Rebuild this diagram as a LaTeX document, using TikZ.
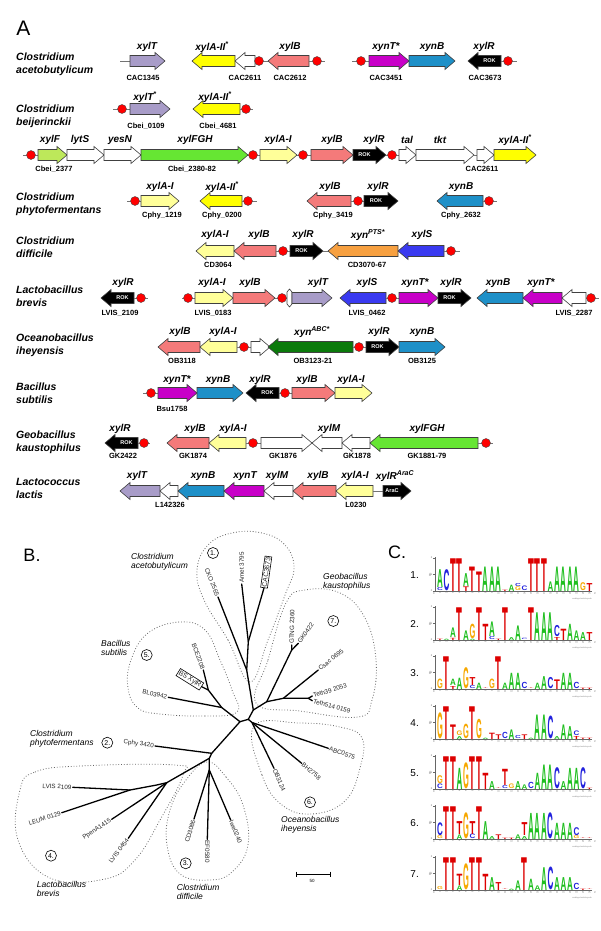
\documentclass[tikz,border=0pt]{standalone}
\usepackage{fontspec}
\setmainfont{Liberation Sans}
\usepackage{graphicx}
\definecolor{cPur}{HTML}{A89CC8}
\definecolor{cYel}{HTML}{FFFF00}
\definecolor{cLye}{HTML}{FFFF99}
\definecolor{cSal}{HTML}{F47A7A}
\definecolor{cMag}{HTML}{C800C8}
\definecolor{cBlu}{HTML}{1E90C8}
\definecolor{cLgr}{HTML}{BDE85A}
\definecolor{cGrn}{HTML}{66E633}
\definecolor{cOra}{HTML}{F7A040}
\definecolor{cVio}{HTML}{3A3AF0}
\definecolor{cDgr}{HTML}{0B7A0B}
\definecolor{lcA}{HTML}{1FBF1F}
\definecolor{lcC}{HTML}{2222DD}
\definecolor{lcG}{HTML}{F7A800}
\definecolor{lcT}{HTML}{DD0000}
\tikzset{
 gn/.style={font=\fontsize{10}{12}\selectfont\bfseries\itshape, inner sep=0pt},
 lt/.style={font=\fontsize{7.5}{9}\selectfont\bfseries, inner sep=0pt},
 sp/.style={font=\fontsize{10.5}{13}\selectfont\bfseries\itshape, align=left, anchor=west, inner sep=0pt},
 gshape/.style={draw=black!75, line width=0.6pt, line join=miter},
 prom/.style={circle, fill=red, draw=black!70, line width=0.4pt, minimum size=9pt, inner sep=0pt},
 stub/.style={draw=black!55, line width=0.7pt},
 rok/.style={font=\fontsize{5.5}{6}\selectfont\bfseries, text=white, inner sep=0pt},
 tr/.style={line width=1.3pt, line cap=round},
 lf/.style={font=\fontsize{6.3}{7}\selectfont, text=black!85, inner sep=1pt},
 bsp/.style={font=\fontsize{8.5}{9.5}\selectfont\itshape, align=left, anchor=west, inner sep=0pt},
 cnum/.style={circle, draw, line width=0.6pt, minimum size=11pt, inner sep=0pt, font=\fontsize{7}{8}\selectfont},
 clus/.style={draw=black!60, dotted, line width=0.8pt},
}
\newcommand\gR[4]{\draw[gshape,fill=#4] (#1,#3-5.5) -- (#2-10,#3-5.5) -- (#2-10,#3-8.5) -- (#2,#3) -- (#2-10,#3+8.5) -- (#2-10,#3+5.5) -- (#1,#3+5.5) -- cycle;}
\newcommand\gL[4]{\draw[gshape,fill=#4] (#2,#3-5.5) -- (#1+10,#3-5.5) -- (#1+10,#3-8.5) -- (#1,#3) -- (#1+10,#3+8.5) -- (#1+10,#3+5.5) -- (#2,#3+5.5) -- cycle;}
\newcommand\rokR[3]{\gR{#1}{#2}{#3}{black}\node[rok] at ({(#1+#2-10)/2},#3) {ROK};}
\newcommand\rokL[3]{\gL{#1}{#2}{#3}{black}\node[rok] at ({(#1+#2+10)/2},#3) {ROK};}
\newcommand\pr[2]{\node[prom] at (#1,#2) {};}
\newcommand\st[3]{\draw[stub] (#1,#3) -- (#2,#3);}
\newcommand\lcol[3]{%
  \xdef\lacc{0}%
  \foreach \L/\h in #3 {%
    \pgfmathsetmacro\hh{\h*16.5-0.3}%
    \node[inner sep=0pt,outer sep=0pt,anchor=south west] at (#1,{#2-\lacc}) {\resizebox*{5.8pt}{\hh pt}{\textcolor{lc\L}{\bfseries\L}}};%
    \pgfmathsetmacro\na{\lacc+\hh+0.3}%
    \xdef\lacc{\na}%
  }%
}
\newcommand\logo[3]{%
  \pgfmathsetmacro\yb{#2+16}%
  \node[font=\fontsize{10}{11}\selectfont, anchor=east, inner sep=0pt] at (419,#2) {#1.};
  \draw[black!60, line width=0.4pt] (435,{\yb-34}) -- (435,\yb) -- (592,\yb);
  \foreach \t in {0,1,2} {\draw[black!60, line width=0.3pt] (433,{\yb-16.5*\t}) -- (435,{\yb-16.5*\t});
     \node[font=\fontsize{2.5}{3}\selectfont, text=black!60, inner sep=0pt, anchor=east] at (432.5,{\yb-16.5*\t}) {\t};}
  \node[font=\fontsize{2.5}{3}\selectfont, text=black!60, rotate=90, inner sep=0pt] at (430,{\yb-16}) {bits};
  \node[font=\fontsize{2.5}{3}\selectfont, text=black!60, inner sep=0pt] at (434,{\yb+3}) {5'};
  \node[font=\fontsize{2.5}{3}\selectfont, text=black!60, inner sep=0pt] at (595,{\yb+3}) {3'};
  \node[font=\fontsize{2}{2.5}\selectfont, text=black!50, inner sep=0pt, anchor=east] at (592,{\yb+8}) {weblogo.berkeley.edu};
  \foreach \s [count=\i] in {#3} {%
     \pgfmathsetmacro\xx{437+6.5*(\i-1)}%
     \node[font=\fontsize{2.5}{3}\selectfont, text=black!55, rotate=90, inner sep=0pt, anchor=east] at ({\xx+3},{\yb+1}) {\i};
     \lcol{\xx}{\yb}{\s}%
  }%
}
\begin{document}
\begin{tikzpicture}[x=1pt,y=-1pt]
\useasboundingbox (0,0) rectangle (600,931);
\fill[white] (0,0) rectangle (600,931);
% ===== Panel A =====
\node[font=\fontsize{21}{22}\selectfont, inner sep=0pt] at (23.5,28) {A};
% species
\node[sp] at (16,64.5) {Clostridium\\acetobutylicum};
\node[sp] at (16,116.5) {Clostridium\\beijerinckii};
\node[sp] at (16,204.5) {Clostridium\\phytofermentans};
\node[sp] at (16,247.5) {Clostridium\\difficile};
\node[sp] at (16,296.5) {Lactobacillus\\brevis};
\node[sp] at (16,345.5) {Oceanobacillus\\iheyensis};
\node[sp] at (16,393.5) {Bacillus\\subtilis};
\node[sp] at (16,442) {Geobacillus\\kaustophilus};
\node[sp] at (16,488.5) {Lactococcus\\lactis};
% Row 1
\st{120}{130}{61}
\gR{130}{165}{61}{cPur}
\gL{192}{235}{61}{cYel}
\gL{235}{255}{61}{white}
\st{255}{268}{61}\pr{259}{61}
\gL{268}{309}{61}{cSal}
\st{309}{325}{61}\pr{317}{61}
\st{352}{369}{61}\pr{361}{61}
\gR{369}{409}{61}{cMag}
\gR{409}{455}{61}{cBlu}
\rokL{468}{501}{61}
\st{501}{517}{61}\pr{508}{61}
\node[gn] at (147,47) {xylT};
\node[gn] at (212,47) {xylA-II\textsuperscript{*}};
\node[gn] at (290,47) {xylB};
\node[gn] at (386,47) {xynT*};
\node[gn] at (432,47) {xynB};
\node[gn] at (484,47) {xylR};
\node[lt] at (143,78) {CAC1345};
\node[lt] at (245,78) {CAC2611};
\node[lt] at (290,78) {CAC2612};
\node[lt] at (386,78) {CAC3451};
\node[lt] at (485,78) {CAC3673};
% Row 2
\st{113}{130}{109}\pr{122}{109}
\gR{130}{170}{109}{cPur}
\gL{193}{240}{109}{cYel}
\st{240}{253}{109}\pr{246}{109}
\node[gn] at (145,97) {xylT\textsuperscript{*}};
\node[gn] at (215,97) {xylA-II\textsuperscript{*}};
\node[lt] at (146,126) {Cbei\_0109};
\node[lt] at (218,126) {Cbei\_4681};
% Row 3
\st{23}{38}{155}\pr{31}{155}
\gR{38}{67}{155}{cLgr}
\gR{67}{104}{155}{white}
\gR{104}{141}{155}{white}
\gR{141}{248}{155}{cGrn}
\st{248}{260}{155}\pr{253}{155}
\gR{260}{297}{155}{cLye}
\st{297}{311}{155}\pr{303}{155}
\gR{311}{353}{155}{cSal}
\rokR{353}{386}{155}
\st{386}{399}{155}\pr{392}{155}
\gR{399}{416}{155}{white}
\gR{416}{474}{155}{white}
\st{474}{477}{155}
\gR{477}{494}{155}{white}
\gR{494}{536}{155}{cYel}
\node[gn] at (50,140) {xylF};
\node[gn] at (80,140) {lytS};
\node[gn] at (120,140) {yesN};
\node[gn] at (195,140) {xylFGH};
\node[gn] at (278,140) {xylA-I};
\node[gn] at (332,140) {xylB};
\node[gn] at (374,140) {xylR};
\node[gn] at (407,140) {tal};
\node[gn] at (440,140) {tkt};
\node[gn] at (515,140) {xylA-II\textsuperscript{*}};
\node[lt] at (54,169) {Cbei\_2377};
\node[lt] at (192,169) {Cbei\_2380-82};
\node[lt] at (482,169) {CAC2611};
% Row 4
\st{127}{141}{201}\pr{135}{201}
\gR{141}{179}{201}{cLye}
\gL{200}{242}{201}{cYel}
\st{242}{257}{201}\pr{248}{201}
\gL{307}{351}{201}{cSal}
\st{351}{364}{201}\pr{358}{201}
\rokR{364}{398}{201}
\gL{437}{483}{201}{cBlu}
\st{483}{497}{201}\pr{489}{201}
\node[gn] at (160,187) {xylA-I};
\node[gn] at (222,187) {xylA-II\textsuperscript{*}};
\node[gn] at (330,187) {xylB};
\node[gn] at (378,187) {xylR};
\node[gn] at (461,187) {xynB};
\node[lt] at (162,216) {Cphy\_1219};
\node[lt] at (222,216) {Cphy\_0200};
\node[lt] at (333,216) {Cphy\_3419};
\node[lt] at (461,216) {Cphy\_2632};
% Row 5
\gL{196}{234}{251}{cLye}
\gL{234}{276}{251}{cSal}
\st{276}{290}{251}\pr{283}{251}
\rokR{290}{323}{251}
\st{323}{328}{251}
\gL{328}{398}{251}{cOra}
\gL{398}{444}{251}{cVio}
\st{444}{460}{251}\pr{451}{251}
\node[gn] at (215,235) {xylA-I};
\node[gn] at (259,235) {xylB};
\node[gn] at (303,235) {xylR};
\node[gn] at (368,235) {xyn\textsuperscript{PTS*}};
\node[gn] at (422,235) {xylS};
\node[lt] at (218,265) {CD3064};
\node[lt] at (367,265) {CD3070-67};
% Row 6
\rokL{101}{134}{298}
\st{134}{148}{298}\pr{141}{298}
\st{182}{195}{298}\pr{188}{298}
\gR{195}{233}{298}{cLye}
\gR{233}{275}{298}{cSal}
\st{275}{292}{298}\pr{282}{298}
\draw[gshape,fill=white] (287,292) -- (289.5,289) -- (292,292) -- (292,304) -- (289.5,307) -- (287,304) -- cycle;
\gR{292}{332}{298}{cPur}
\gL{340}{386}{298}{cVio}
\st{386}{399}{298}\pr{392}{298}
\gR{399}{438}{298}{cMag}
\rokR{438}{471}{298}
\gL{477}{523}{298}{cBlu}
\gL{523}{562}{298}{cMag}
\gL{562}{586}{298}{white}
\st{586}{599}{298}\pr{591}{298}
\node[gn] at (123,283) {xylR};
\node[gn] at (212,283) {xylA-I};
\node[gn] at (250,283) {xylB};
\node[gn] at (318,283) {xylT};
\node[gn] at (367,283) {xylS};
\node[gn] at (415,283) {xynT*};
\node[gn] at (451,283) {xylR};
\node[gn] at (498,283) {xynB};
\node[gn] at (541,283) {xynT*};
\node[lt] at (120,313) {LVIS\_2109};
\node[lt] at (213,313) {LVIS\_0183};
\node[lt] at (367,313) {LVIS\_0462};
\node[lt] at (574,313) {LVIS\_2287};
% Row 7
\gL{158}{200}{347}{cSal}
\gL{200}{237}{347}{cLye}
\st{237}{251}{347}\pr{244}{347}
\gR{251}{270}{347}{white}
\gL{268}{353}{347}{cDgr}
\st{353}{366}{347}\pr{359}{347}
\rokR{366}{399}{347}
\gR{399}{445}{347}{cBlu}
\node[gn] at (180,332) {xylB};
\node[gn] at (223,332) {xylA-I};
\node[gn] at (312,332) {xyn\textsuperscript{ABC*}};
\node[gn] at (379,332) {xylR};
\node[gn] at (422,332) {xynB};
\node[lt] at (182,361) {OB3118};
\node[lt] at (313,361) {OB3123-21};
\node[lt] at (422,361) {OB3125};
% Row 8
\st{143}{158}{393}\pr{151}{393}
\gR{158}{197}{393}{cMag}
\gR{197}{243}{393}{cBlu}
\rokL{246}{279}{393}
\st{279}{292}{393}\pr{285}{393}
\gR{292}{335}{393}{cSal}
\gR{335}{372}{393}{cLye}
\node[gn] at (177,380) {xynT*};
\node[gn] at (218,380) {xynB};
\node[gn] at (260,380) {xylR};
\node[gn] at (307,380) {xylB};
\node[gn] at (351,380) {xylA-I};
\node[lt] at (172,409) {Bsu1758};
% Row 9
\rokL{105}{138}{443}
\st{138}{150}{443}\pr{144}{443}
\gL{167}{209}{443}{cSal}
\gL{209}{246}{443}{cLye}
\st{246}{261}{443}\pr{253}{443}
\gR{261}{312}{443}{white}
\gL{312}{342}{443}{white}
\gL{342}{370}{443}{white}
\gL{370}{478}{443}{cGrn}
\st{478}{493}{443}\pr{486}{443}
\node[gn] at (120,429) {xylR};
\node[gn] at (195,429) {xylB};
\node[gn] at (233,429) {xylA-I};
\node[gn] at (329,429) {xylM};
\node[gn] at (427,429) {xylFGH};
\node[lt] at (123,456) {GK2422};
\node[lt] at (193,456) {GK1874};
\node[lt] at (283,456) {GK1876};
\node[lt] at (357,456) {GK1878};
\node[lt] at (427,456) {GK1881-79};
% Row 10
\gL{120}{160}{491}{cPur}
\gL{160}{178}{491}{white}
\gL{178}{224}{491}{cBlu}
\gL{224}{264}{491}{cMag}
\gL{264}{293}{491}{white}
\gL{293}{336}{491}{cSal}
\gL{336}{373}{491}{cLye}
\st{373}{383}{491}
\gR{383}{411}{491}{black}
\node[rok] at (392,491) {AraC};
\node[gn] at (137,476) {xylT};
\node[gn] at (203,476) {xynB};
\node[gn] at (245,476) {xynT};
\node[gn] at (277,476) {xylM};
\node[gn] at (318,476) {xylB};
\node[gn] at (355,476) {xylA-I};
\node[gn] at (395,476) {xylR\textsuperscript{AraC}};
\node[lt] at (170,505) {L142326};
\node[lt] at (356,505) {L0230};
% ===== Panel B =====
\node[font=\fontsize{18}{20}\selectfont, inner sep=0pt] at (32,555) {B.};
% clusters
\draw[clus] plot[smooth cycle, tension=0.7] coordinates {(250,682) (228,640) (204,600) (197,570) (208,545) (232,533) (262,533) (285,545) (294,568) (285,595) (268,640)};
\draw[clus] plot[smooth cycle, tension=0.7] coordinates {(237,712) (205,716) (160,714) (138,708) (128,688) (131,660) (148,633) (180,622) (205,630) (220,660) (232,690)};
\draw[clus] plot[smooth cycle, tension=0.7] coordinates {(256,703) (268,660) (286,603) (305,590) (340,593) (365,618) (376,660) (372,700) (358,717) (300,711)};
\draw[clus] plot[smooth cycle, tension=0.7] coordinates {(254,726) (262,775) (282,805) (312,814) (345,801) (360,768) (362,738) (340,727) (300,723)};
\draw[clus] plot[smooth cycle, tension=0.7] coordinates {(207,762) (226,777) (243,805) (248,845) (232,872) (210,880) (180,874) (167,845) (170,810) (186,780)};
\draw[clus] plot[smooth cycle, tension=0.7] coordinates {(20,790) (35,772) (80,766) (175,765) (183,775) (160,820) (135,860) (105,879) (50,878) (18,840)};
% tree coordinates
\coordinate (n0) at (240,721.7);
\coordinate (n1) at (248.3,719.3);
\coordinate (nC) at (211.7,753.3);
\coordinate (lCphy) at (155,746);
\coordinate (nLow) at (209.3,758.3);
\coordinate (nLac) at (166.7,782.7);
\coordinate (nLac2) at (156.7,785);
\coordinate (nLac3) at (130,790);
\coordinate (lLV2109) at (72.7,787.3);
\coordinate (lLEUM) at (61.7,812.7);
\coordinate (lPpen) at (111.7,819.3);
\coordinate (lLV0454) at (128.3,838.3);
\coordinate (nDif) at (209.3,770);
\coordinate (lCD) at (194,819);
\coordinate (lEF) at (207.3,839.3);
\coordinate (lLwe) at (230.7,820);
\coordinate (nOc) at (252,722.5);
\coordinate (lABC) at (328.3,748.3);
\coordinate (lBH) at (301.7,763.3);
\coordinate (lOB) at (274,768.3);
\coordinate (nUp) at (253.3,710);
\coordinate (nGeo) at (266.7,701.7);
\coordinate (nTeth) at (283.3,698.3);
\coordinate (nT2) at (308.3,698.3);
\coordinate (lT39) at (312.3,696);
\coordinate (lT514) at (312.3,700.7);
\coordinate (lCsac) at (318.3,670);
\coordinate (nGK) at (291.7,650);
\coordinate (lGTNG) at (291.7,645);
\coordinate (lGK) at (298.3,643.3);
\coordinate (nTop) at (246.7,670);
\coordinate (nA) at (248.3,641.7);
\coordinate (lAmet) at (241.7,584);
\coordinate (lCAC) at (264,588);
\coordinate (lCKO) at (218,597);
\coordinate (nBac) at (221.7,707.5);
\coordinate (nBCE) at (208.3,690);
\coordinate (lBCE) at (203.3,670);
\coordinate (lBS) at (201.7,686.7);
\coordinate (lBL) at (168.3,697.3);
\draw[tr] (n0) -- (n1);
\draw[tr] (n0) -- (nC) -- (lCphy);
\draw[tr] (nC) -- (nLow) -- (nLac) -- (nLac2) -- (nLac3) -- (lLV2109);
\draw[tr] (nLac3) -- (lLEUM);
\draw[tr] (nLac) -- (lPpen);
\draw[tr] (nLac) -- (lLV0454);
\draw[tr] (nLow) -- (nDif) -- (lCD);
\draw[tr] (nDif) -- (lEF);
\draw[tr] (nDif) -- (lLwe);
\draw[tr] (n1) -- (nOc) -- (lABC);
\draw[tr] (nOc) -- (lBH);
\draw[tr] (nOc) -- (lOB);
\draw[tr] (n1) -- (nUp) -- (nGeo) -- (nTeth) -- (nT2) -- (lT39);
\draw[tr] (nT2) -- (lT514);
\draw[tr] (nTeth) -- (lCsac);
\draw[tr] (nGeo) -- (nGK) -- (lGTNG);
\draw[tr] (nGK) -- (lGK);
\draw[tr] (nUp) -- (nTop) -- (lCKO);
\draw[tr] (nTop) -- (nA) -- (lAmet);
\draw[tr] (nA) -- (lCAC);
\draw[tr] (n0) -- (nBac) -- (lBL);
\draw[tr] (nBac) -- (nBCE) -- (lBCE);
\draw[tr] (nBCE) -- (lBS);
% leaf labels
\node[lf,anchor=east,rotate=-7] at (lCphy) {Cphy 3420};
\node[lf,anchor=east,rotate=-2] at (lLV2109) {LVIS 2109};
\node[lf,anchor=east,rotate=18] at (lLEUM) {LEUM 0129};
\node[lf,anchor=east,rotate=34] at (lPpen) {PpenA1415};
\node[lf,anchor=east,rotate=53] at (lLV0454) {LVIS 0454};
\node[lf,anchor=east,rotate=73] at (lCD) {CD3086};
\node[lf,anchor=west,rotate=-90] at (lEF) {EF0580};
\node[lf,anchor=west,rotate=-67] at (lLwe) {lwe0240};
\node[lf,anchor=west,rotate=-66] at (lOB) {OB3124};
\node[lf,anchor=west,rotate=-40] at (lBH) {BH2758};
\node[lf,anchor=west,rotate=-19] at (lABC) {ABC0575};
\node[lf,anchor=west,rotate=-15] at (lT514) {Teth514 0159};
\node[lf,anchor=west,rotate=18] at (lT39) {Teth39 2053};
\node[lf,anchor=west,rotate=39] at (lCsac) {Csac 0695};
\node[lf,anchor=west,rotate=55] at (lGK) {GK0422};
\node[lf,anchor=west,rotate=89] at (lGTNG) {GTNG 2360};
\node[lf,anchor=west,rotate=90] at (lAmet) {Amet 3795};
\node[lf,draw,line width=0.6pt,anchor=west,rotate=82,font=\fontsize{6.8}{7}\selectfont] at (lCAC) {CAC3673};
\node[lf,anchor=east,rotate=-68] at (lCKO) {CKO 2565};
\node[lf,anchor=east,rotate=-70] at (lBCE) {BCE2208};
\node[lf,draw,line width=0.6pt,anchor=east,rotate=-32,font=\fontsize{6.8}{7}\selectfont] at (lBS) {BS XylR};
\node[lf,anchor=east,rotate=-12] at (lBL) {BL03942};
% circled numbers
\node[cnum] at (213,553) {1.};
\node[cnum] at (107.3,742.7) {2.};
\node[cnum] at (185.7,863.3) {3.};
\node[cnum] at (51,855.7) {4.};
\node[cnum] at (146.7,655) {5.};
\node[cnum] at (310,802.3) {6.};
\node[cnum] at (333.3,621) {7.};
% species labels B
\node[bsp] at (131,562) {Clostridium\\acetobutylicum};
\node[bsp] at (101,648) {Bacillus\\subtilis};
\node[bsp] at (30,739) {Clostridium\\phytofermentans};
\node[bsp] at (36.7,889) {Lactobacillus\\brevis};
\node[bsp] at (176.7,892) {Clostridium\\difficile};
\node[bsp] at (281,825) {Oceanobacillus\\iheyensis};
\node[bsp] at (323,582) {Geobacillus\\kaustophilus};
% scale bar
\draw[line width=0.7pt] (296,874) -- (330,874);
\draw[line width=0.7pt] (296,871.5) -- (296,876.5);
\draw[line width=0.7pt] (330,871.5) -- (330,876.5);
\node[font=\fontsize{4.5}{5}\selectfont, inner sep=0pt] at (312,881) {50};
% ===== Panel C =====
\node[font=\fontsize{18}{20}\selectfont, inner sep=0pt] at (397,552) {C.};
\logo{1}{575}{{C/0.2,A/1.1},{C/1.3},{T/2},{T/2},{T/0.3,A/0.8},{T/1.5},{T/1.2},{A/1.5},{A/1.5},{A/1.5},{T/0.1},{A/0.4},{G/0.25,C/0.2},{C/0.3},{T/2},{T/2},{T/2},{A/0.6},{A/1.5},{A/1.5},{A/1.5},{A/1.5},{G/0.5},{T/0.5}}
\logo{2}{624}{{T/0.1},{A/0.1},{T/0.15,A/0.6},{T/2},{A/0.6},{A/0.1,G/0.9},{T/2},{T/1},{C/0.2,A/0.9},{T/0.1},{T/2},{A/0.2},{A/0.9},{C/0.1},{T/2},{A/1.7},{A/1.7},{A/1.7},{T/0.2,C/0.7},{T/0.7},{A/1.0},{A/0.6},{A/0.5},{T/0.5}}
\logo{3}{673}{{G/0.6},{T/2},{T/0.2,A/0.4},{A/0.7},{G/1.3},{C/0.2,T/0.5},{A/0.4},{T/0.05},{G/0.6},{T/2},{A/0.4},{A/1.0},{A/1.0},{C/0.4},{T/0.05},{A/0.4},{A/0.8},{C/0.7},{T/0.6},{A/1.0},{A/1.0},{C/0.4},{T/0.1},{T/0.1}}
\logo{4}{723}{{G/1.6},{T/2},{T/0.9},{A/0.2,G/0.3},{G/0.9},{T/2},{G/1.2},{A/0.1},{T/0.4},{T/0.3},{C/0.4},{A/0.6},{C/0.2},{T/0.3},{A/0.1},{A/1.5},{A/1.5},{C/1.4},{A/0.2},{A/0.9},{A/0.8},{T/0.2,C/0.3},{T/0.1},{T/0.1}}
\logo{5}{773}{{C/0.3,G/0.5},{T/2},{T/2},{A/1.3},{G/1.6},{T/2},{T/2},{T/1.0},{A/0.5},{T/0.05},{C/0.2,T/1.0},{G/0.3},{A/0.5},{A/0.3},{C/0.4},{A/1.0},{A/1.5},{A/1.5},{C/1.3},{A/0.5},{A/1.3},{A/1.3},{C/1.3},{T/0.1}}
\logo{6}{823}{{G/0.2,C/0.8},{T/2},{T/2},{A/0.3,T/0.8},{G/1.6},{C/0.3,T/0.8},{T/2},{A/1.1},{A/0.2},{T/0.3},{T/0.1},{T/0.1},{A/0.3},{A/0.2,T/0.8},{A/1.6},{A/1.6},{A/1.6},{C/1.6},{A/1.0},{A/1.0},{A/1.0},{G/0.2,C/0.5},{T/0.05},{T/0.05}}
\logo{7}{874}{{G/0.2},{T/2},{T/2},{A/0.3,T/0.7},{G/1.6},{T/2},{T/2},{T/1.0},{A/0.8},{T/0.5},{T/0.05},{A/0.1},{A/0.6},{T/2},{A/0.7},{A/0.3},{A/1.4},{C/1.4},{A/0.8},{A/0.8},{A/0.8},{C/0.4},{T/0.1},{T/0.05}}
\end{tikzpicture}
\end{document}
